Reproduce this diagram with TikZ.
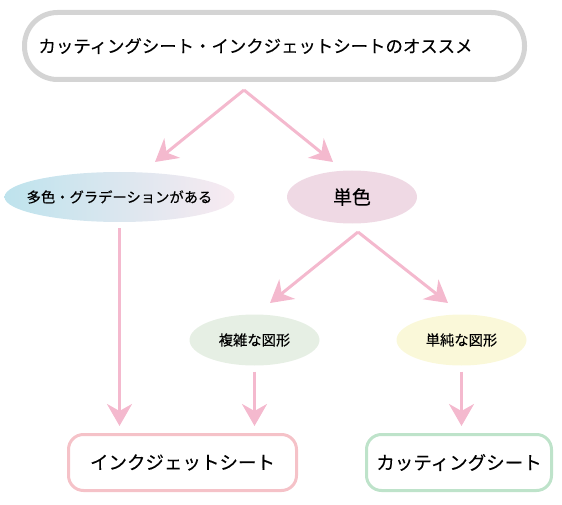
\documentclass[tikz,border=0pt]{standalone}
\usepackage{fontspec}
\setmainfont{Noto Sans CJK JP}[FakeBold=0.2]
\usetikzlibrary{arrows.meta,shapes.geometric}
\definecolor{arrowpink}{HTML}{F4B9CE}
\definecolor{titlegray}{HTML}{D4D4D4}
\definecolor{inkpink}{HTML}{F5C2C8}
\definecolor{cutgreen}{HTML}{BEE3CA}
\definecolor{monofill}{HTML}{EFD9E4}
\definecolor{complexfill}{HTML}{E6EFE4}
\definecolor{simplefill}{HTML}{FAF8D9}
\definecolor{gradleft}{HTML}{BEE3ED}
\definecolor{gradright}{HTML}{F8EAF1}
\tikzset{
  arr/.style={draw=arrowpink, line width=3pt, -{Stealth[length=22pt,width=25pt,inset=7pt]}},
  choice/.style={ellipse, inner sep=0pt, minimum width=130pt, minimum height=51pt},
  choicetext/.style={font=\fontsize{14.3}{16}\selectfont, text=black},
  endbox/.style={rectangle, rounded corners=15pt, line width=3pt, minimum height=56pt, font=\fontsize{18.5}{20}\selectfont, text=black},
}
\begin{document}
\begin{tikzpicture}[x=1pt,y=-1pt]
\useasboundingbox (0,0) rectangle (562,505);
\node[draw=titlegray, line width=5pt, rounded corners=33pt, minimum width=500pt, minimum height=67pt, inner sep=0pt,
  label={[xshift=-19pt, font=\fontsize{17.4}{19}\selectfont, text=black]center:カッティングシート・インクジェットシートのオススメ}] (title) at (274.5,46) {};
\node[choice, minimum width=230pt, minimum height=50pt, left color=gradleft, right color=gradright,
  label={[choicetext]center:多色・グラデーションがある}] (multi) at (119.5,197) {};
\node[choice, fill=monofill, minimum height=53pt, label={[font=\fontsize{19}{21}\selectfont, text=black]center:単色}] (mono) at (352,197) {};
\node[choice, fill=complexfill, label={[choicetext]center:複雑な図形}] (complex) at (254.5,340) {};
\node[choice, fill=simplefill, label={[choicetext]center:単純な図形}] (simple) at (461.5,340) {};
\node[endbox, draw=inkpink, minimum width=228pt] (inkjet) at (182.5,462.5) {インクジェットシート};
\node[endbox, draw=cutgreen, minimum width=185pt] (cutting) at (459,462.5) {カッティングシート};
% forks
\coordinate (split1) at (244,90);
\coordinate (toMulti) at (155,162);
\coordinate (toMono) at (333,162);
\coordinate (split2) at (358,232);
\coordinate (toComplex) at (270,303);
\coordinate (toSimple) at (448,303);
\draw[arr] (split1) -- (toMulti);
\draw[arr] (split1) -- (toMono);
\draw[arr] (split2) -- (toComplex);
\draw[arr] (split2) -- (toSimple);
% down to the sheets
\draw[arr, shorten <=6pt, shorten >=7pt] (multi.south) -- (multi.south |- inkjet.north);
\draw[arr, shorten <=6pt, shorten >=7pt] (complex.south) -- (complex.south |- inkjet.north);
\draw[arr, shorten <=6pt, shorten >=7pt] (simple.south) -- (simple.south |- cutting.north);
\end{tikzpicture}
\end{document}
